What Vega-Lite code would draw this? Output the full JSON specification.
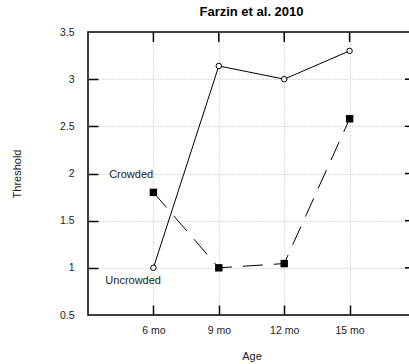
{
  "$schema": "https://vega.github.io/schema/vega-lite/v6.json",
  "autosize": {"type": "none"},
  "width": 327,
  "height": 283,
  "padding": {"left": 88, "top": 32, "right": 0, "bottom": 49},
  "background": "white",
  "title": {"text": "Farzin et al. 2010", "font": "Liberation Sans", "fontSize": 13, "fontWeight": "bold", "color": "black", "offset": 8},
  "config": {
    "view": {"stroke": "black", "strokeWidth": 1.5},
    "font": "Liberation Sans",
    "axis": {"labelFont": "Liberation Sans", "titleFont": "Liberation Sans", "labelFontSize": 10.5, "titleFontSize": 11, "labelColor": "#222", "titleColor": "#222", "titleFontWeight": "normal"}
  },
  "datasets": {
    "pts": [
      {"age": 6, "threshold": 1.0, "group": "Uncrowded"},
      {"age": 9, "threshold": 3.14, "group": "Uncrowded"},
      {"age": 12, "threshold": 3.0, "group": "Uncrowded"},
      {"age": 15, "threshold": 3.3, "group": "Uncrowded"},
      {"age": 6, "threshold": 1.8, "group": "Crowded"},
      {"age": 9, "threshold": 1.0, "group": "Crowded"},
      {"age": 12, "threshold": 1.045, "group": "Crowded"},
      {"age": 15, "threshold": 2.58, "group": "Crowded"}
    ],
    "labels": [
      {"age": 4.98, "threshold": 1.98, "label": "Crowded"},
      {"age": 5.07, "threshold": 0.86, "label": "Uncrowded"}
    ],
    "xt": [{"v": 6}, {"v": 9}, {"v": 12}, {"v": 15}],
    "yt": [{"v": 1}, {"v": 1.5}, {"v": 2}, {"v": 2.5}, {"v": 3}]
  },
  "resolve": {"axis": {"x": "independent", "y": "independent"}},
  "layer": [
    {
      "data": {"name": "pts"},
      "transform": [{"filter": "datum.group === 'Uncrowded'"}],
      "mark": {"type": "line", "color": "black", "strokeWidth": 1},
      "encoding": {
        "x": {"field": "age", "type": "quantitative", "scale": {"domain": [3, 18], "nice": false, "zero": false},
          "axis": {"orient": "bottom", "values": [6, 9, 12, 15], "labelExpr": "datum.value + ' mo'", "title": "Age", "domain": false, "ticks": false, "labelPadding": 10, "titlePadding": 15, "grid": true, "gridDash": [1, 2], "gridColor": "#bbbbbb"}},
        "y": {"field": "threshold", "type": "quantitative", "scale": {"domain": [0.5, 3.5], "nice": false, "zero": false},
          "axis": {"orient": "left", "values": [0.5, 1, 1.5, 2, 2.5, 3, 3.5], "format": "~g", "title": "Threshold", "domain": false, "ticks": false, "labelPadding": 14, "titlePadding": 37, "grid": false}}
      }
    },
    {
      "data": {"name": "pts"},
      "transform": [{"filter": "datum.group === 'Uncrowded'"}],
      "mark": {"type": "point", "shape": "circle", "filled": true, "fill": "white", "stroke": "black", "strokeWidth": 1, "size": 30, "opacity": 1},
      "encoding": {
        "x": {"field": "age", "type": "quantitative",
          "axis": {"orient": "bottom", "offset": -10, "values": [6, 9, 12, 15], "labels": false, "title": null, "domain": false, "ticks": true, "tickSize": 10, "tickColor": "black", "tickWidth": 1.5, "grid": false}},
        "y": {"field": "threshold", "type": "quantitative",
          "axis": {"orient": "left", "offset": -10, "values": [1, 1.5, 2, 2.5, 3], "labels": false, "title": null, "domain": false, "ticks": true, "tickSize": 10, "tickColor": "black", "tickWidth": 1.5, "grid": true, "gridDash": [1, 2], "gridColor": "#bbbbbb"}}
      }
    },
    {
      "data": {"name": "pts"},
      "transform": [{"filter": "datum.group === 'Crowded'"}],
      "mark": {"type": "line", "color": "black", "strokeWidth": 1, "strokeDash": [20, 11]},
      "encoding": {
        "x": {"field": "age", "type": "quantitative", "axis": null},
        "y": {"field": "threshold", "type": "quantitative", "axis": null}
      }
    },
    {
      "data": {"name": "pts"},
      "transform": [{"filter": "datum.group === 'Crowded'"}],
      "mark": {"type": "point", "shape": "square", "filled": true, "color": "black", "size": 55, "opacity": 1},
      "encoding": {
        "x": {"field": "age", "type": "quantitative", "axis": null},
        "y": {"field": "threshold", "type": "quantitative", "axis": null}
      }
    },
    {
      "data": {"name": "labels"},
      "mark": {"type": "text", "font": "Liberation Sans", "fontSize": 11, "color": "#222"},
      "encoding": {
        "x": {"field": "age", "type": "quantitative", "axis": null},
        "y": {"field": "threshold", "type": "quantitative", "axis": null},
        "text": {"field": "label"}
      }
    },
    {
      "data": {"name": "xt"},
      "mark": {"type": "rule", "color": "black", "strokeWidth": 1.5, "y2Offset": 10},
      "encoding": {
        "x": {"field": "v", "type": "quantitative", "axis": null},
        "y": {"datum": 3.5, "type": "quantitative", "axis": null},
        "y2": {"datum": 3.5}
      }
    },
    {
      "data": {"name": "yt"},
      "mark": {"type": "rule", "color": "black", "strokeWidth": 1.5, "x2Offset": -10},
      "encoding": {
        "y": {"field": "v", "type": "quantitative", "axis": null},
        "x": {"datum": 18, "type": "quantitative", "axis": null},
        "x2": {"datum": 18}
      }
    }
  ]
}
